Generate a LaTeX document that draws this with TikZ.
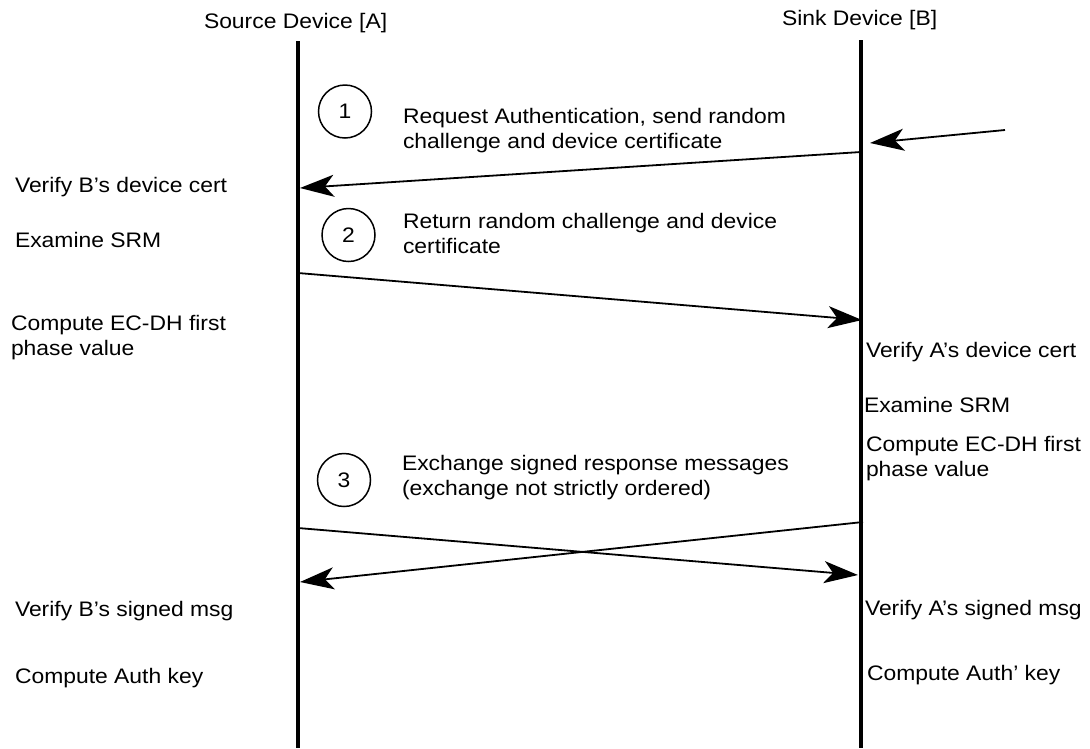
\documentclass[tikz,border=0pt]{standalone}
\usepackage{fontspec}
\setmainfont[FakeStretch=1.09]{Liberation Sans}
\usetikzlibrary{arrows.meta}
\begin{document}
\begin{tikzpicture}[x=1pt,y=-1pt,
  every node/.style={font=\fontsize{21}{25}\selectfont, inner sep=0pt, outer sep=0pt},
  note/.style={anchor=base west, align=left},
  lifeline/.style={line width=4.5pt},
  msg/.style={line width=1.8pt, -{Stealth[length=34pt,width=22pt,inset=9pt]}},
  stepnum/.style={draw, circle, line width=1.5pt, minimum size=53pt}]
\useasboundingbox (0,0) rectangle (1090,748);

% device headings
\node[note] (hA) at (204,28) {Source Device [A]};
\node[note] (hB) at (782,25) {Sink Device [B]};

% lifelines
\coordinate (Atop) at (298,41);
\coordinate (Abot) at (298,748);
\coordinate (Btop) at (861,40);
\coordinate (Bbot) at (861,748);
\draw[lifeline] (Atop) -- (Abot);
\draw[lifeline] (Btop) -- (Bbot);

% step markers
\node[stepnum] (s1) at (345,111.5) {1};
\node[stepnum] (s2) at (348.5,235) {2};
\node[stepnum] (s3) at (344,480) {3};

% step descriptions (two-line notes are placed by their last baseline)
\node[note] (t1) at (403,148) {Request Authentication, send random\\challenge and device certificate};
\node[note] (t2) at (403,253) {Return random challenge and device\\certificate};
\node[note] (t3) at (402,495) {Exchange signed response messages\\(exchange not strictly ordered)};

% source side actions
\node[note] (a1) at (15,192) {Verify B’s device cert};
\node[note] (a2) at (15,247) {Examine SRM};
\node[note] (a3) at (11,355) {Compute EC-DH first\\phase value};
\node[note] (a4) at (15,616) {Verify B’s signed msg};
\node[note] (a5) at (15,683) {Compute Auth key};

% sink side actions
\node[note] (b1) at (866,357) {Verify A’s device cert};
\node[note] (b2) at (864,412) {Examine SRM};
\node[note] (b3) at (866,476) {Compute EC-DH first\\phase value};
\node[note] (b4) at (865,615) {Verify A’s signed msg};
\node[note] (b5) at (867,680) {Compute Auth’ key};

% message end points
\coordinate (trig) at (1005,130);
\coordinate (trigE) at (870,143);
\coordinate (m1s) at (861,152);
\coordinate (m1e) at (300,188);
\coordinate (m2s) at (298,273);
\coordinate (m2e) at (862,320);
\coordinate (m3s) at (298,528);
\coordinate (m3e) at (858,575);
\coordinate (m4s) at (863,522);
\coordinate (m4e) at (300,582);

% messages
\draw[msg] (trig) -- (trigE);
\draw[msg] (m1s) -- (m1e);
\draw[msg] (m2s) -- (m2e);
\draw[msg] (m3s) -- (m3e);
\draw[msg] (m4s) -- (m4e);
\end{tikzpicture}
\end{document}
